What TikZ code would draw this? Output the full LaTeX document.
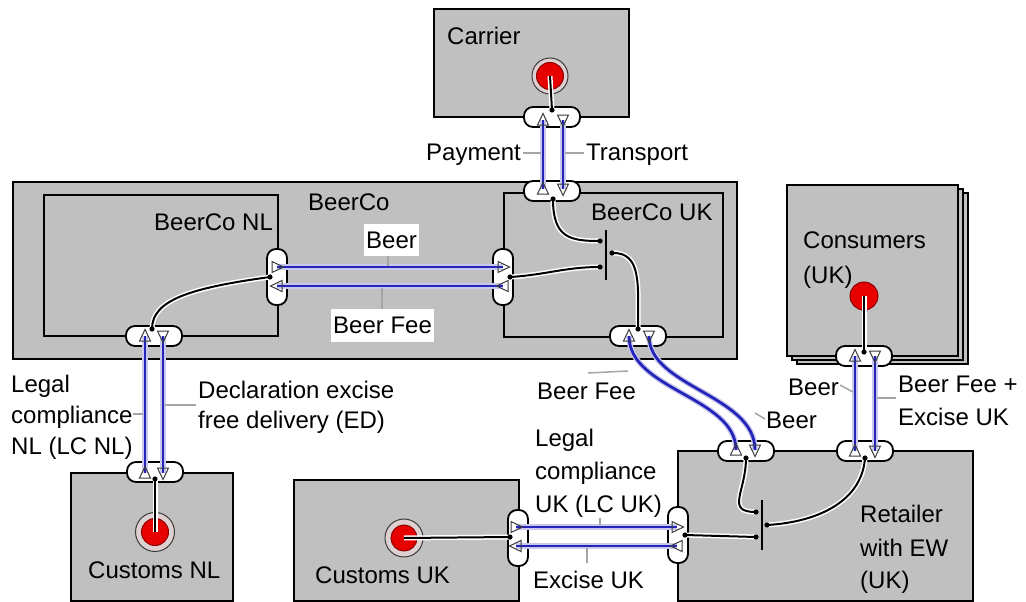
\documentclass[tikz,border=0pt]{standalone}
\usepackage{fontspec}
\setmainfont{Liberation Sans}
\definecolor{boxgray}{RGB}{192,192,192}
\definecolor{leadgray}{RGB}{165,165,165}
\definecolor{flowblue}{RGB}{36,36,185}
\definecolor{flowhalo}{RGB}{200,200,236}
\definecolor{trigray}{RGB}{60,60,60}
\definecolor{valred}{RGB}{230,0,0}
\definecolor{valredline}{RGB}{140,0,0}
\definecolor{ringfill}{RGB}{222,208,208}
\newcommand\lbfont{\fontsize{24}{28}\selectfont}
\tikzset{
  actor/.style={draw=black, line width=2pt, fill=boxgray, anchor=north west, inner sep=0pt},
  port/.style={draw=black, line width=1.8pt, fill=white, rounded corners=9pt,
               minimum width=56pt, minimum height=20pt, inner sep=0pt},
  vport/.style={port, minimum width=20pt, minimum height=56pt},
  lbl/.style={font=\lbfont, inner sep=0pt, anchor=base west},
  boxlbl/.style={lbl, fill=white, inner xsep=2pt, inner ysep=3pt},
  lead/.style={draw=leadgray, line width=1.5pt},
  flowhalo/.style={draw=flowhalo, line width=5.5pt},
  flow/.style={draw=flowblue, line width=2.8pt},
  linkhalo/.style={draw=white, line width=5pt},
  link/.style={draw=black, line width=2pt},
  tri/.style={draw=trigray, line width=1pt},
  bar/.style={draw=black, line width=1.2pt},
  ring/.style={circle, draw=trigray, line width=1pt, fill=ringfill, inner sep=0pt},
  stim/.style={circle, draw=valredline, line width=1pt, fill=valred, inner sep=0pt},
  tup/.pic={\draw[tri] (-5.5,5) -- (5.5,5) -- (0,-6.5) -- cycle;},
  tdown/.pic={\draw[tri] (-5.5,-5) -- (5.5,-5) -- (0,6.5) -- cycle;},
  tright/.pic={\draw[tri] (-5,-5.5) -- (-5,5.5) -- (6.5,0) -- cycle;},
  tleft/.pic={\draw[tri] (5,-5.5) -- (5,5.5) -- (-6.5,0) -- cycle;},
}
\begin{document}
\begin{tikzpicture}[x=1pt,y=-1pt]
\useasboundingbox (0,0) rectangle (1026,602);

% ---------- actors ----------
\node[actor, minimum width=195pt, minimum height=108pt] (carrier) at (433,8) {};
\node[actor, minimum width=724pt, minimum height=177pt] (beerco) at (12,181) {};
\node[actor, minimum width=234pt, minimum height=141pt] (beerconl) at (43,194) {};
\node[actor, minimum width=219pt, minimum height=144pt] (beercouk) at (503,192) {};
\node[actor, minimum width=171pt, minimum height=171pt] (consback2) at (796,192) {};
\node[actor, minimum width=171pt, minimum height=171pt] (consback1) at (791,188) {};
\node[actor, minimum width=171pt, minimum height=171pt] (consumers) at (786,184) {};
\node[actor, minimum width=295pt, minimum height=150pt] (retailer) at (677,450) {};
\node[actor, minimum width=162pt, minimum height=128pt] (customsnl) at (70,472) {};
\node[actor, minimum width=225pt, minimum height=121pt] (customsuk) at (293,479) {};

% ---------- value ports ----------
\node[port]  (pcarrier)  at (552,117) {};
\node[port]  (pukTop)    at (552,191) {};
\node[vport] (pnlRight)  at (277,277) {};
\node[vport] (pukLeft)   at (503,277) {};
\node[port]  (pnlBottom) at (154,336) {};
\node[port]  (pukBottom) at (638,336) {};
\node[port]  (pcustnl)   at (155,472) {};
\node[port]  (pcons)     at (864,356) {};
\node[port]  (pretA)     at (746,451) {};
\node[port]  (pretB)     at (865,451) {};
\node[vport] (pcustuk)   at (518,538) {};
\node[vport] (pretL)     at (678,535) {};

% port ends of the value transfers
\coordinate (cPay)   at (543,120);  \coordinate (cTr)    at (563,120);
\coordinate (uPay)   at (543,189);  \coordinate (uTr)    at (563,189);
\coordinate (nBeer)  at (277,267);  \coordinate (nFee)   at (277,286);
\coordinate (uBeer)  at (503,267);  \coordinate (uFee)   at (503,286);
\coordinate (nLC)    at (145,336);  \coordinate (nED)    at (163,336);
\coordinate (cnLC)   at (145,473);  \coordinate (cnED)   at (163,473);
\coordinate (ukFee)  at (629,336);  \coordinate (ukBeer) at (649,336);
\coordinate (rFee)   at (736,450);  \coordinate (rBeer)  at (755,450);
\coordinate (kBeer)  at (855,356);  \coordinate (kFee)   at (875,356);
\coordinate (rkBeer) at (855,451);  \coordinate (rkFee)  at (875,451);
\coordinate (cuLC)   at (516,527);  \coordinate (cuEx)   at (516,546);
\coordinate (rLC)    at (677,527);  \coordinate (rEx)    at (677,546);

% ---------- value transfers ----------
\foreach \s in {flowhalo,flow}{
  \draw[\s] (cPay) -- (uPay);
  \draw[\s] (cTr) -- (uTr);
  \draw[\s] (nBeer) -- (uBeer);
  \draw[\s] (nFee) -- (uFee);
  \draw[\s] (nLC) -- (cnLC);
  \draw[\s] (nED) -- (cnED);
  \draw[\s] (ukFee) .. controls (629,390) and (736,397) .. (rFee);
  \draw[\s] (ukBeer) .. controls (649,387) and (755,395) .. (rBeer);
  \draw[\s] (kBeer) -- (rkBeer);
  \draw[\s] (kFee) -- (rkFee);
  \draw[\s] (cuLC) -- (rLC);
  \draw[\s] (cuEx) -- (rEx);
}

% direction marks inside the ports
\pic at (cPay) {tup};    \pic at (cTr) {tdown};
\pic at (uPay) {tup};    \pic at (uTr) {tdown};
\pic at (nBeer) {tright}; \pic at (nFee) {tleft};
\pic at (uBeer) {tright}; \pic at (uFee) {tleft};
\pic at (nLC) {tup};     \pic at (nED) {tdown};
\pic at (cnLC) {tup};    \pic at (cnED) {tdown};
\pic at (ukFee) {tup};   \pic at (ukBeer) {tdown};
\pic at (rFee) {tup};    \pic at (rBeer) {tdown};
\pic at (kBeer) {tup};   \pic at (kFee) {tdown};
\pic at (rkBeer) {tup};  \pic at (rkFee) {tdown};
\pic at (cuLC) {tright}; \pic at (cuEx) {tleft};
\pic at (rLC) {tright};  \pic at (rEx) {tleft};

% ---------- start stimuli ----------
\node[ring, minimum size=36pt] (ringcarrier) at (550,76) {};
\node[stim, minimum size=27pt] (startcarrier) at (550,76) {};
\node[ring, minimum size=39pt] (ringcnl) at (155,532) {};
\node[stim, minimum size=27pt] (startcnl) at (155,532) {};
\node[ring, minimum size=38pt] (ringcuk) at (404,538) {};
\node[stim, minimum size=26pt] (startcuk) at (404,538) {};
\node[stim, minimum size=28pt] (startcons) at (864,296) {};

% ---------- dependency paths ----------
\coordinate (dCarrier) at (552,110);
\coordinate (dUkTop)   at (553,199);
\coordinate (dUkLeft)  at (510,277);
\coordinate (dUkBot)   at (638,329);
\coordinate (dNlRight) at (270,277);
\coordinate (dNlBot)   at (152,329);
\coordinate (dCustNl)  at (155,479);
\coordinate (dCons)    at (864,352);
\coordinate (dRetA)    at (746,458);
\coordinate (dRetB)    at (865,458);
\coordinate (dRetL)    at (685,535);
\coordinate (dCustUk)  at (510,537);
% AND junctions
\coordinate (jUkA) at (600,241); \coordinate (jUkB) at (600,267); \coordinate (jUkC) at (612,253);
\coordinate (jRA)  at (756,512); \coordinate (jRB)  at (756,537); \coordinate (jRC)  at (767,525);

\foreach \s in {linkhalo,link}{
  \draw[\s] (startcarrier.center) -- (dCarrier);
  \draw[\s] (dUkTop) .. controls (553,238) and (570,241) .. (jUkA);
  \draw[\s] (dUkLeft) .. controls (545,275) and (565,267) .. (jUkB);
  \draw[\s] (jUkC) .. controls (642,252) and (638,285) .. (dUkBot);
  \draw[\s] (dNlRight) .. controls (190,288) and (152,300) .. (dNlBot);
  \draw[\s] (dCustNl) -- (startcnl.center);
  \draw[\s] (startcons.center) -- (dCons);
  \draw[\s] (startcuk.center) -- (dCustUk);
  \draw[\s] (dRetA) .. controls (746,492) and (725,512) .. (jRA);
  \draw[\s] (dRetB) .. controls (862,500) and (820,522) .. (jRC);
  \draw[\s] (dRetL) -- (jRB);
}
\draw[bar] (606,230) -- (606,280);
\draw[bar] (762,500) -- (762,550);
\foreach \p in {dCarrier,dUkTop,dUkLeft,dUkBot,dNlRight,dNlBot,dCustNl,dCons,dRetA,dRetB,dRetL,dCustUk,jUkA,jUkB,jUkC,jRA,jRB,jRC}
  \fill (\p) circle (2.6);

% ---------- actor names ----------
\node[lbl] (tcarrier) at (447,45) {Carrier};
\node[lbl] (tbeerco) at (308,210) {BeerCo};
\node[lbl] (tbeerconl) at (154,230) {BeerCo NL};
\node[lbl] (tbeercouk) at (591,220) {BeerCo UK};
\node[lbl] (tcons1) at (803,248) {Consumers};
\node[lbl] (tcons2) at (803,283) {(UK)};
\node[lbl] (tret1) at (860,522) {Retailer};
\node[lbl] (tret2) at (860,556) {with EW};
\node[lbl] (tret3) at (860,588) {(UK)};
\node[lbl] (tcustnl) at (88,578) {Customs NL};
\node[lbl] (tcustuk) at (315,583) {Customs UK};

% ---------- transfer names and leaders ----------
\node[lbl] (lpay) at (426,160) {Payment};
\node[lbl] (ltr) at (586,160) {Transport};
\draw[lead] (523,153) -- (541,153);
\draw[lead] (565,153) -- (584,153);

\draw[lead] (388,254) -- (388,266);
\draw[lead] (382,288) -- (382,309);
\node[boxlbl, text height=21pt, text depth=5pt] (lbeer) at (364,248) {Beer};
\node[boxlbl, text height=21pt, text depth=6pt] (lbeerfee) at (331,333) {Beer Fee};

\node[lbl] (llcnl1) at (11,392) {Legal};
\node[lbl] (llcnl2) at (11,423) {compliance};
\node[lbl] (llcnl3) at (11,454) {NL (LC NL)};
\draw[lead] (133,414) -- (143,414);
\node[lbl] (led1) at (198,398) {Declaration excise};
\node[lbl] (led2) at (198,428) {free delivery (ED)};
\draw[lead] (165,405) -- (196,405);

\node[lbl] (ldfee) at (537,399) {Beer Fee};
\draw[lead] (588,373) -- (628,371);
\node[lbl] (ldbeer) at (766,428) {Beer};
\draw[lead] (755,413) -- (765,419);

\node[lbl] (lkbeer) at (788,395) {Beer};
\draw[lead] (840,385) -- (853,392);
\node[lbl] (lkfee1) at (898,392) {Beer Fee +};
\node[lbl] (lkfee2) at (898,425) {Excise UK};
\draw[lead] (877,398) -- (896,398);

\node[lbl] (llcuk1) at (535,446) {Legal};
\node[lbl] (llcuk2) at (535,479) {compliance};
\node[lbl] (llcuk3) at (535,512) {UK (LC UK)};
\draw[lead] (600,518) -- (600,525);
\node[lbl] (lexuk) at (533,588) {Excise UK};
\draw[lead] (587,548) -- (587,563);
\end{tikzpicture}
\end{document}
